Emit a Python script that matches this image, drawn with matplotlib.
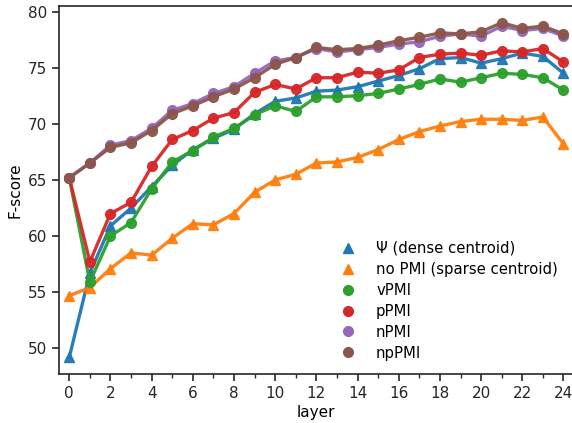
import numpy as np
import matplotlib
matplotlib.use("Agg")
import matplotlib.pyplot as plt
from matplotlib.lines import Line2D

layers = np.arange(0, 25)

psi_dense = [49.2, 56.7, 60.9, 62.5, 64.4, 66.3, 67.7, 68.7, 69.5, 70.9, 72.0, 72.3, 72.9,
             73.0, 73.3, 73.8, 74.3, 74.9, 75.8, 75.9, 75.4, 75.8, 76.3, 76.0, 74.5]
no_pmi = [54.7, 55.4, 57.1, 58.5, 58.3, 59.8, 61.1, 61.0, 62.0, 63.9, 65.0, 65.5, 66.5,
          66.6, 67.0, 67.7, 68.6, 69.3, 69.8, 70.2, 70.4, 70.4, 70.3, 70.6, 68.2]
vpmi = [65.2, 55.9, 60.0, 61.2, 64.2, 66.6, 67.6, 68.8, 69.6, 70.8, 71.6, 71.1, 72.4,
        72.4, 72.5, 72.7, 73.1, 73.5, 74.0, 73.7, 74.1, 74.5, 74.4, 74.1, 73.0]
ppmi = [65.2, 57.7, 62.0, 63.0, 66.2, 68.6, 69.4, 70.5, 71.0, 72.8, 73.5, 73.1, 74.1,
        74.1, 74.6, 74.5, 74.8, 75.9, 76.2, 76.3, 76.1, 76.5, 76.4, 76.7, 75.5]
npmi = [65.2, 66.5, 68.1, 68.5, 69.6, 71.2, 71.8, 72.7, 73.3, 74.5, 75.6, 75.9, 76.7,
        76.4, 76.6, 76.8, 77.1, 77.3, 77.8, 78.0, 77.8, 78.7, 78.3, 78.5, 77.8]
nppmi = [65.2, 66.5, 67.9, 68.3, 69.4, 70.9, 71.6, 72.4, 73.1, 74.1, 75.3, 75.9, 76.8,
         76.6, 76.7, 77.0, 77.4, 77.7, 78.1, 78.0, 78.2, 79.0, 78.5, 78.7, 78.0]

series = [
    (psi_dense, "Ψ (dense centroid)", "tab:blue", "^"),
    (no_pmi, "no PMI (sparse centroid)", "tab:orange", "^"),
    (vpmi, "vPMI", "tab:green", "o"),
    (ppmi, "pPMI", "tab:red", "o"),
    (npmi, "nPMI", "tab:purple", "o"),
    (nppmi, "npPMI", "tab:brown", "o"),
]

plt.rcParams["font.family"] = "DejaVu Sans"
plt.rcParams["font.size"] = 10
plt.rcParams["axes.edgecolor"] = ".15"
plt.rcParams["xtick.color"] = ".15"
plt.rcParams["ytick.color"] = ".15"

fig = plt.figure(figsize=(5.72, 4.23), dpi=100)
ax = fig.add_axes([0.1031, 0.1158, 0.9, 0.870])

handles = []
for vals, lab, col, mk in series:
    ax.plot(layers, vals, color=col, marker=mk, markersize=7, linewidth=2.4, alpha=0.95)
    handles.append(Line2D([], [], color=col, marker=mk, linestyle="none", markersize=7, label=lab))

ax.set_xlim(-0.5, 24.5)
ax.set_xticks(np.arange(0, 25, 2))
ax.set_xticks(np.arange(1, 25, 2), minor=True)
ax.set_yticks([50, 55, 60, 65, 70, 75, 80])
ax.tick_params(axis="both", which="major", direction="out", length=5, width=1.2, labelsize=11)
ax.tick_params(axis="x", which="minor", direction="out", length=3, width=1)
for s in ax.spines.values():
    s.set_linewidth(1.2)

ax.set_xlabel("layer", fontsize=11, labelpad=3)
ax.set_ylabel("F-score", fontsize=11)

ax.legend(handles=handles, loc="lower right", bbox_to_anchor=(0.995, 0.0), frameon=False,
          fontsize=10.7, handletextpad=0.9, labelspacing=0.4)

fig.savefig("out.png", dpi=100)
